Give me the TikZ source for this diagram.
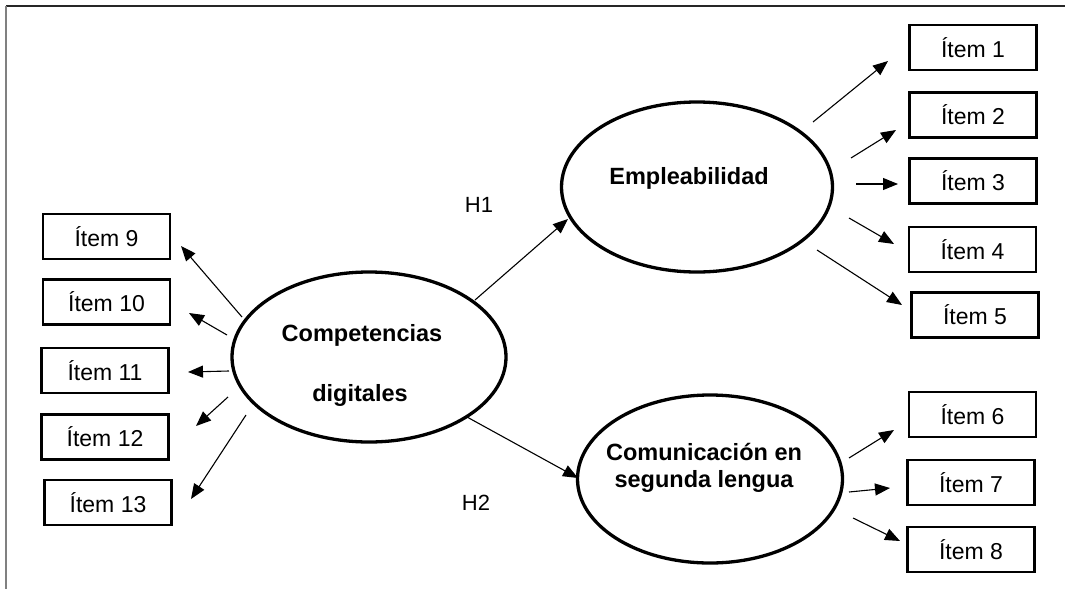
\documentclass[tikz,border=0pt]{standalone}
\usepackage{fontspec}
\setmainfont{Liberation Sans}
\usetikzlibrary{shapes.geometric,arrows.meta}
\begin{document}
\begin{tikzpicture}[x=1pt,y=-1pt,
  itembox/.style={draw,line width=2.2pt,minimum width=127pt,minimum height=45pt,inner sep=0pt,font=\fontsize{23}{27}\selectfont},
  latent/.style={draw,ellipse,line width=3.3pt,inner sep=0pt},
  lbl/.style={font=\fontsize{23.5}{27}\selectfont\bfseries,inner sep=0pt,align=center},
  hlbl/.style={font=\fontsize{22}{26}\selectfont,inner sep=0pt},
  conn/.style={line width=1.1pt,-{Triangle[length=15pt,width=12pt]}}]
\useasboundingbox (0,0) rectangle (1065,589);
% frame
\draw[line width=1.5pt,black!85] (6,6) -- (1065,6);
\draw[line width=2pt,black!50] (6,6) -- (6,589);
% latent variables
\node[latent,minimum width=274pt,minimum height=170pt] (comp) at (369,357) {};
\node[latent,minimum width=271pt,minimum height=170pt] (emp) at (697,187) {};
\node[latent,minimum width=265pt,minimum height=168pt] (com) at (710,479) {};
\node[lbl] (compA) at (362,335) {Competencias};
\node[lbl] (compB) at (360,395) {digitales};
\node[lbl] (empT) at (689,178) {Empleabilidad};
\node[lbl] (comT) at (704,468) {Comunicación en\\segunda lengua};
\node[hlbl] (h1) at (479,205) {H1};
\node[hlbl] (h2) at (476,503) {H2};
% items
\node[itembox] (i1) at (973,47.5) {Ítem 1};
\node[itembox] (i2) at (973,115) {Ítem 2};
\node[itembox] (i3) at (973,181) {Ítem 3};
\node[itembox] (i4) at (972.5,249.5) {Ítem 4};
\node[itembox] (i5) at (975,315) {Ítem 5};
\node[itembox] (i6) at (972.5,414.5) {Ítem 6};
\node[itembox] (i7) at (971,482.5) {Ítem 7};
\node[itembox] (i8) at (971,549.5) {Ítem 8};
\node[itembox] (i9) at (106.5,236.5) {Ítem 9};
\node[itembox] (i10) at (106.5,302) {Ítem 10};
\node[itembox] (i11) at (105,370.5) {Ítem 11};
\node[itembox] (i12) at (105,437) {Ítem 12};
\node[itembox] (i13) at (108,502.5) {Ítem 13};
% connector end points
\coordinate (h1s) at (475,300); \coordinate (h1e) at (568,219);
\coordinate (h2s) at (467,417); \coordinate (h2e) at (578,478);
\coordinate (a1s) at (813,122); \coordinate (a1e) at (888,61);
\coordinate (a2s) at (851,158); \coordinate (a2e) at (896,130);
\coordinate (a3s) at (856,184); \coordinate (a3e) at (898,184);
\coordinate (a4s) at (849,218); \coordinate (a4e) at (894,244);
\coordinate (a5s) at (817,250); \coordinate (a5e) at (902,305);
\coordinate (a6s) at (849,458); \coordinate (a6e) at (894,430);
\coordinate (a7s) at (849,492); \coordinate (a7e) at (890,488);
\coordinate (a8s) at (853,518); \coordinate (a8e) at (900,541);
\coordinate (a9s) at (242,317); \coordinate (a9e) at (181,246);
\coordinate (a10s) at (227,335); \coordinate (a10e) at (189,313);
\coordinate (a11s) at (229,371); \coordinate (a11e) at (188,372);
\coordinate (a12s) at (228,397); \coordinate (a12e) at (196,426);
\coordinate (a13s) at (246,415); \coordinate (a13e) at (191,499);
% connectors
\draw[conn] (h1s) -- (h1e);
\draw[conn] (h2s) -- (h2e);
\foreach \k in {1,...,13} {\draw[conn] (a\k s) -- (a\k e);}
\end{tikzpicture}
\end{document}
